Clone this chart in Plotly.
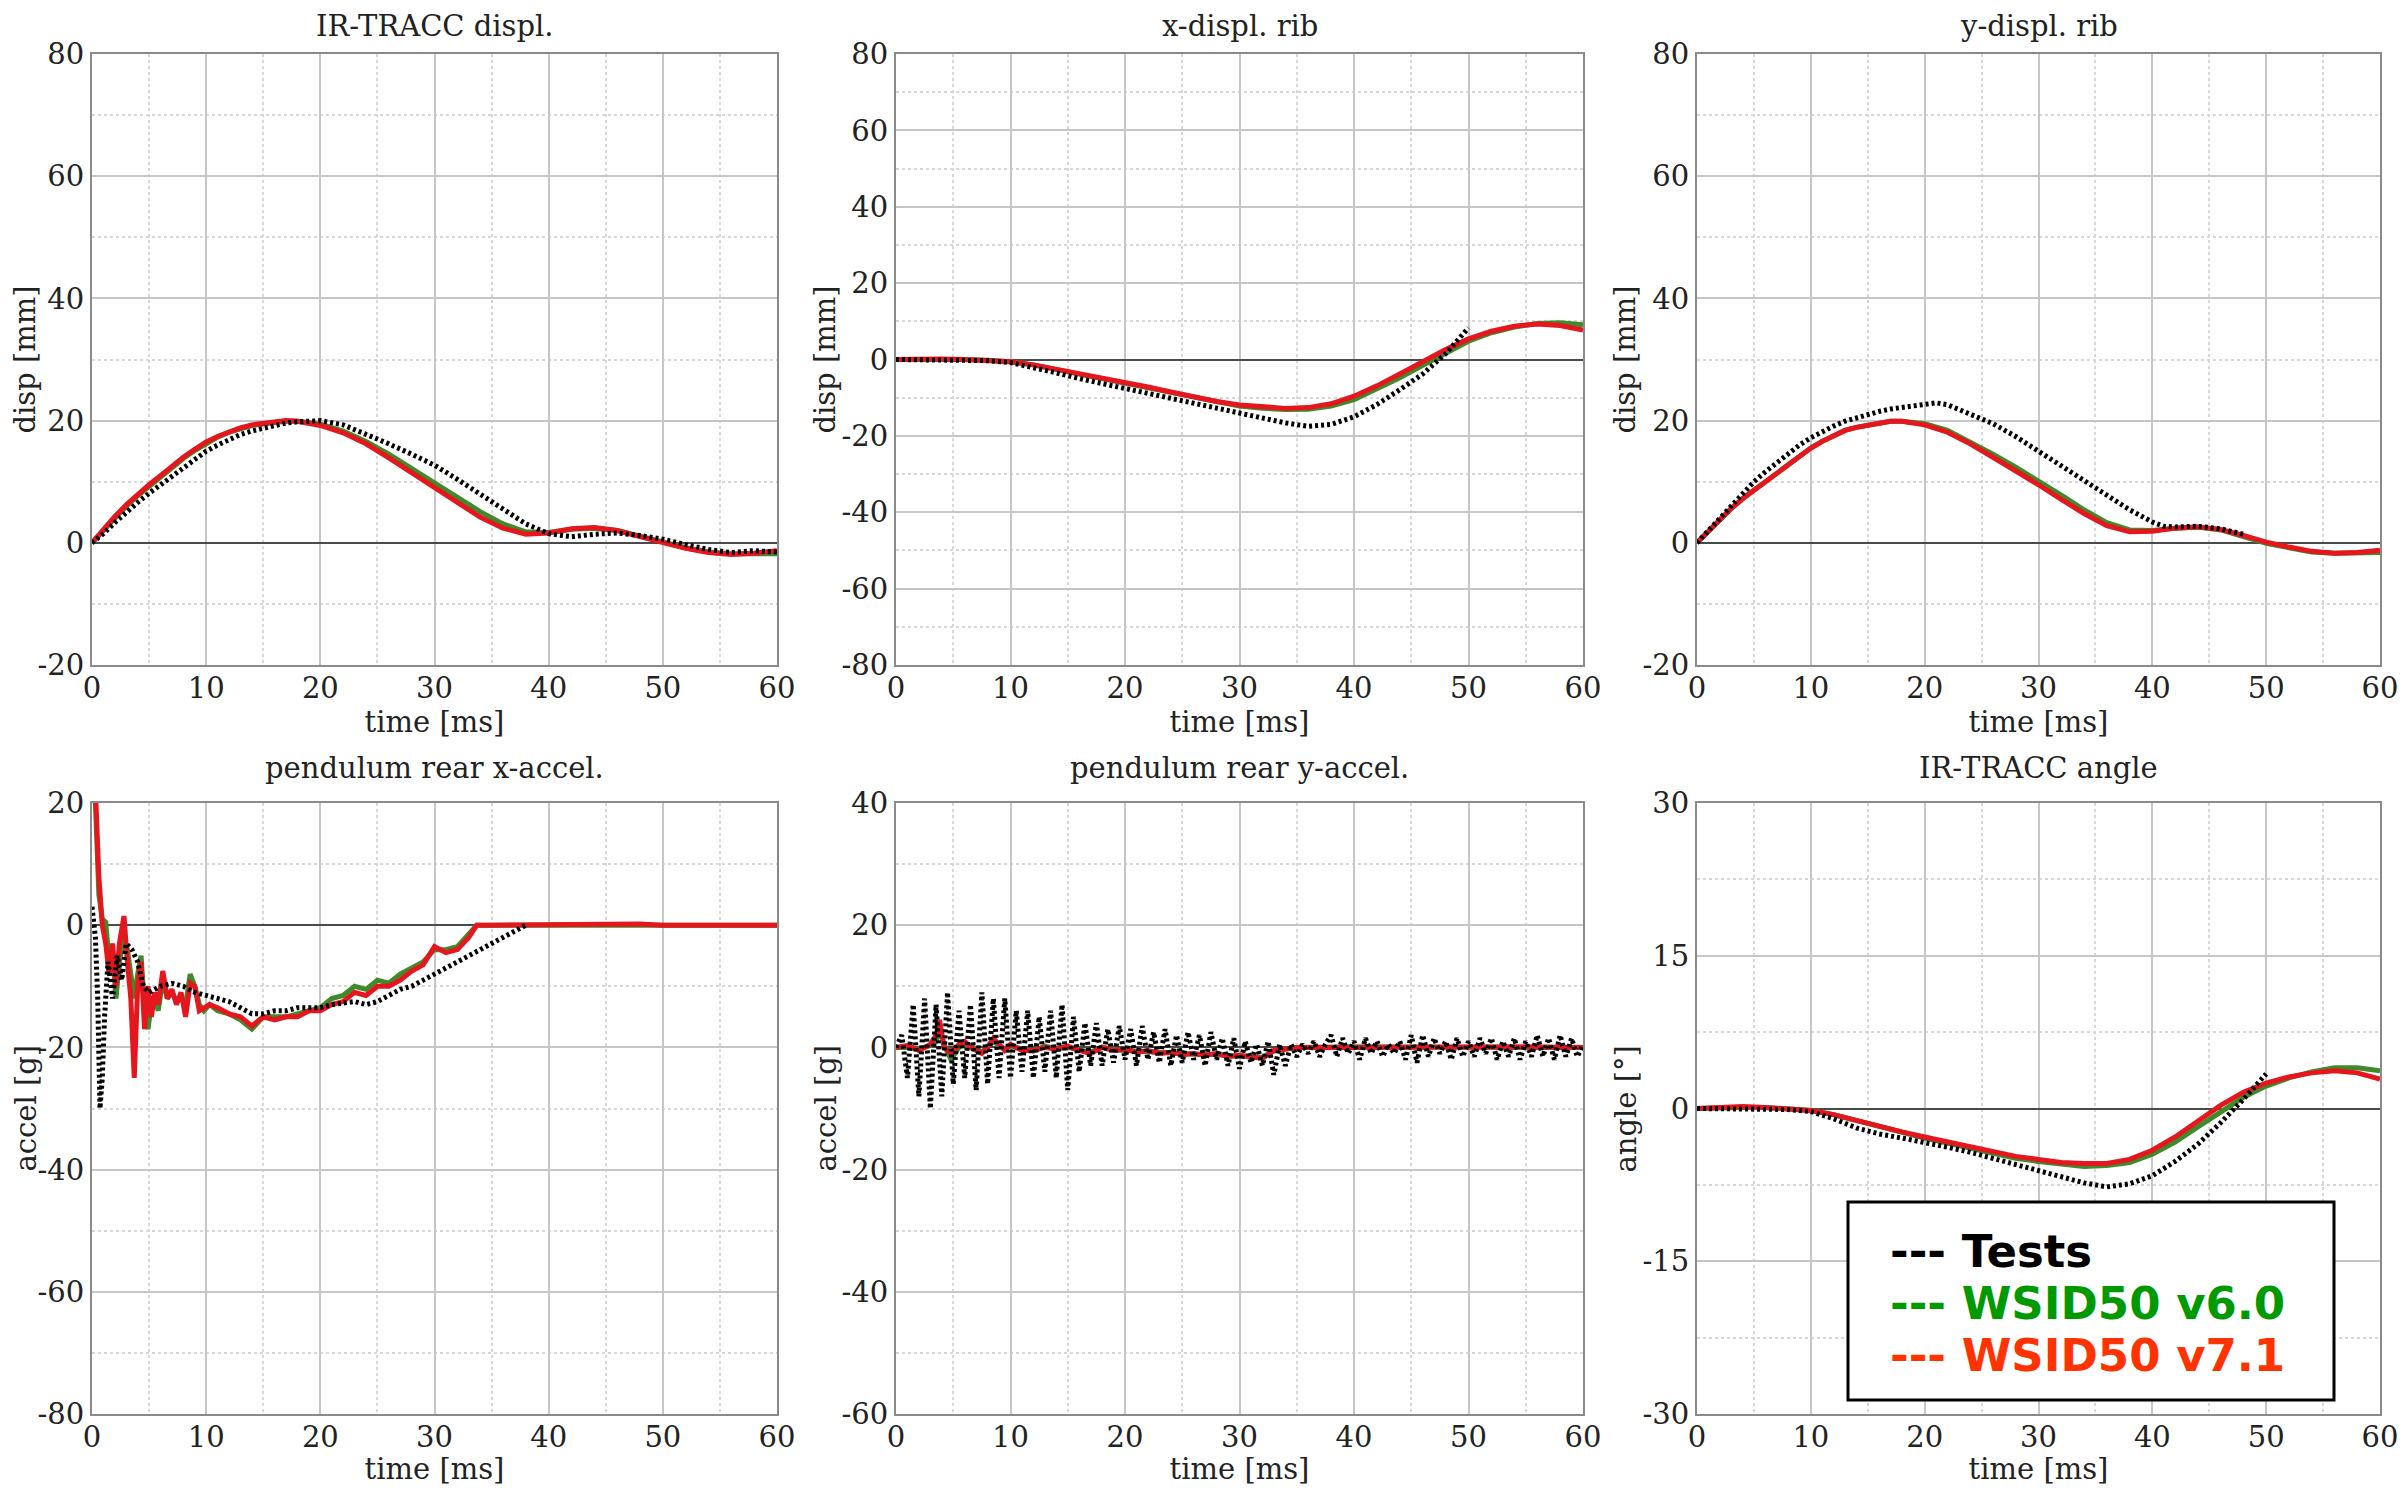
import plotly.graph_objects as go

# ---------------- data ----------------
# Panel 1: IR-TRACC displ.
t_p1 = [0,1,2,3,4,5,6,7,8,9,10,11,12,13,14,15,16,17,18,19,20,22,24,26,28,30,32,34,36,38,40,42,44,46,48,50,52,54,56,58,60]
p1_v71 = [0,2.2,4.3,6.2,7.9,9.5,11.0,12.6,14.0,15.3,16.5,17.4,18.2,18.8,19.3,19.6,19.9,20.0,19.9,19.6,19.2,18.0,16.2,13.9,11.5,9.0,6.5,4.2,2.4,1.4,1.6,2.3,2.5,2.0,1.0,0.0,-0.9,-1.6,-1.9,-1.7,-1.3]
p1_v60 = [0,2.1,4.2,6.0,7.7,9.2,10.8,12.4,13.8,15.1,16.3,17.3,18.1,18.7,19.2,19.5,19.8,19.9,19.9,19.7,19.4,18.3,16.6,14.5,12.2,9.8,7.4,5.1,3.1,1.8,1.7,2.2,2.4,2.0,1.1,0.1,-0.8,-1.5,-1.8,-1.8,-1.8]
p1_test = [0,1.5,3.3,5.0,6.6,8.1,9.5,10.9,12.3,13.7,15.0,16.0,16.9,17.7,18.3,18.8,19.3,19.6,19.8,20.0,20.0,19.3,17.8,16.2,14.5,12.7,10.4,8.0,5.5,3.1,1.5,1.0,1.4,1.6,1.2,0.6,-0.3,-1.1,-1.6,-1.3,-1.5]

# Panel 2: x-displ. rib
t_p2 = [0,2,4,6,8,10,12,14,16,18,20,22,24,26,28,30,32,34,36,38,40,42,44,46,48,50,52,54,56,58,60]
p2_v71 = [0,0.2,0.1,0,-0.2,-0.6,-1.4,-2.5,-3.6,-4.8,-6.0,-7.2,-8.5,-9.8,-11.0,-11.9,-12.5,-12.8,-12.6,-11.6,-9.6,-6.9,-3.8,-0.6,2.6,5.4,7.4,8.7,9.3,8.9,7.7]
p2_v60 = [0,0.1,0.1,0,-0.2,-0.6,-1.4,-2.6,-3.8,-5.0,-6.3,-7.5,-8.8,-10.1,-11.3,-12.2,-12.8,-13.1,-13.0,-12.2,-10.5,-7.8,-4.8,-1.5,1.8,4.8,7.0,8.5,9.4,9.6,9.1]
t_p2_test = [0,2,4,6,8,10,12,14,16,18,20,22,24,26,28,30,32,34,36,38,40,42,44,46,48,49,50]
p2_test = [0,0,0,-0.1,-0.3,-0.8,-2.0,-3.5,-5.0,-6.3,-7.6,-8.8,-10.2,-11.5,-12.8,-14.0,-15.3,-16.6,-17.5,-17.0,-15.0,-11.8,-7.9,-3.8,1.5,5.0,8.3]

# Panel 3: y-displ. rib
t_p3 = [0,1,2,3,4,5,6,7,8,9,10,11,12,13,14,15,16,17,18,19,20,22,24,26,28,30,32,34,36,38,40,42,44,46,48,50,52,54,56,58,60]
p3_v71 = [0,1.9,3.8,5.6,7.2,8.6,10.0,11.4,12.8,14.2,15.5,16.6,17.6,18.4,18.9,19.3,19.7,19.9,19.9,19.7,19.3,18.1,16.2,14.0,11.8,9.5,7.1,4.8,2.8,1.8,1.9,2.4,2.6,2.2,1.2,0.1,-0.7,-1.4,-1.7,-1.6,-1.2]
p3_v60 = [0,1.9,3.8,5.6,7.2,8.6,10.0,11.4,12.8,14.2,15.5,16.6,17.6,18.4,18.9,19.3,19.7,19.9,19.9,19.8,19.5,18.4,16.5,14.5,12.4,10.2,7.8,5.4,3.3,2.1,2.0,2.4,2.6,2.1,1.0,-0.1,-0.8,-1.5,-1.7,-1.7,-1.6]
t_p3_test = [0,1,2,3,4,5,6,7,8,9,10,11,12,13,14,15,16,17,18,19,20,21,22,24,26,28,30,32,34,36,38,40,41,42,44,46,48]
p3_test = [0,2.0,4.0,6.0,8.0,10.0,11.6,13.1,14.6,16.0,17.2,18.2,19.1,19.9,20.5,21.0,21.5,21.9,22.2,22.5,22.7,22.9,22.6,21.1,19.5,17.4,15.0,12.7,10.2,7.8,5.4,3.4,2.7,2.6,2.7,2.3,1.4]

# Panel 4: pendulum rear x-accel.
t_p4 = [0,0.3,0.6,0.9,1.2,1.5,1.8,2.1,2.4,2.8,3.1,3.4,3.7,4.0,4.3,4.6,4.9,5.2,5.5,5.8,6.2,6.6,7.0,7.4,7.8,8.2,8.6,9.0,9.4,9.8,10.3,11,12,13,14,15,16,17,18,19,20,21,22,23,24,25,26,27,28,29,30,31,32,33,33.7,35,40,45,48,50,55,60]
p4_v71 = [22,22,8,0,-3,-8,-3,-10,-3,1.5,-6,-12,-25,-10,-6,-17,-10,-15,-11,-13,-7.5,-12,-10.5,-13,-11,-15,-9.5,-10,-14,-13.5,-13,-13.5,-14.5,-15,-16.5,-15,-15.5,-15,-15,-14,-14,-13,-12.5,-11,-11.5,-10,-10,-9,-7.5,-6.5,-3.5,-4.5,-4,-2,0,0,0.1,0,0.2,0,0,0]
p4_v60 = [22,20,5,1,0.5,-6,-4,-12,-6,-2,-4,-8,-12,-8,-5,-14,-17,-13,-12,-14,-9,-12,-11,-12.5,-12,-13,-8,-10,-13,-14,-13,-14,-14.5,-15.5,-17,-15,-15,-15,-14.5,-14,-13.5,-12,-11.5,-10,-10.5,-9,-9.5,-8,-7,-6,-4,-4,-3.5,-1.5,0,0,0,0.1,0,0,0.1,0]
t_p4_test = [0,0.3,0.5,0.7,0.9,1.1,1.4,1.8,2.2,2.6,3,3.5,4,4.5,5,6,7,8,9,10,11,12,13,14,15,16,17,18,19,20,21,22,23,24,25,26,27,28,29,30,31,32,33,34,35,36,37,38]
p4_test = [3,-2,-12,-30,-25,-15,-6,-12,-5,-9,-3,-4,-6,-10,-11,-10,-9.5,-10,-11,-11.5,-12,-12.5,-13.5,-14.5,-14.5,-14,-14,-13.5,-13.5,-13.5,-13,-12.8,-12.5,-13,-12.5,-11.5,-10.5,-10,-9,-8,-7,-6,-5,-4,-3,-2,-1,0]

# Panel 5: pendulum rear y-accel.
t_p5_test = [0,0.5,1,1.5,2,2.5,3,3.5,4,4.5,5,5.5,6,6.5,7,7.5,8,8.5,9,9.5,10,10.5,11,11.5,12,12.5,13,13.5,14,14.5,15,15.5,16,16.5,17,17.5,18,18.5,19,19.5,20,20.5,21,21.5,22,22.5,23,23.5,24,24.5,25,25.5,26,26.5,27,27.5,28,28.5,29,29.5,30,30.5,31,31.5,32,32.5,33,33.5,34,34.5,35,35.5,36,36.5,37,37.5,38,38.5,39,39.5,40,40.5,41,41.5,42,42.5,43,43.5,44,44.5,45,45.5,46,46.5,47,47.5,48,48.5,49,49.5,50,50.5,51,51.5,52,52.5,53,53.5,54,54.5,55,55.5,56,56.5,57,57.5,58,58.5,59,59.5,60]
p5_test = [0,2,-5,7,-8,8,-10,7,-8,9,-6,6,-5,7,-7,9,-6,8,-5,8,-5,6,-4,6,-5,5,-4,6,-5,7,-7,5,-4,4,-3,4,-3,3,-2.5,3.5,-2,3,-3,3.5,-2,2.5,-2.5,3,-3,2,-2.5,2.5,-2,2,-3,2.5,-2,1.5,-3,1.5,-3.5,1,-2.5,0.5,-3,1,-4.5,0.5,-3,0.5,-1.5,0.5,-1,1,-1.5,0.5,2,-1.5,1.5,-1,1,-2,1.5,-1,1,-1.5,0.5,-1,1,-2,2,-2.5,2,-1.5,1.5,-1,1,-2,1.5,-1.5,1,-1.5,1.5,-1,1.5,-2,1,-1.5,1.5,-2,1,-1.5,2,-1.5,1.5,-2,2,-1.5,1.5,-1.5,0.5]
t_p5 = [0,1,2,3,3.5,3.8,4.2,4.8,5.5,6,6.5,7,7.5,8,8.5,9,9.5,10,11,12,13,14,15,16,17,18,19,20,21,22,23,24,25,26,27,28,29,30,31,32,33,34,35,40,45,50,55,60]
p5_v71 = [0,0.3,-0.5,0.5,2,4.5,0,-1,0.5,1,0,-0.5,-1,0,1.5,0.5,-0.5,0.5,-0.5,-0.5,0,-0.3,0.2,-0.5,-1,0,-0.5,-0.3,-0.8,-0.5,-1,-0.8,-1.2,-1,-1.3,-1,-1.5,-1.3,-1.5,-1.8,-0.5,-0.3,0,0,0.1,0,0.1,0]
p5_v60 = [0,0,-0.3,0.3,1,3,0.5,-2,0,0.5,0.3,-0.3,-0.8,0.2,1,0.3,-0.3,0.3,-0.3,-0.6,0.2,-0.2,0,-0.4,-0.8,0.1,-0.4,-0.5,-0.6,-0.6,-0.9,-0.9,-1.1,-1.1,-1.2,-1.1,-1.4,-1.4,-1.4,-1.6,-0.6,-0.2,0,0.1,0,0,0,0]

# Panel 6: IR-TRACC angle
t_p6 = [0,2,4,6,8,10,12,14,16,18,20,22,24,26,28,30,32,34,36,38,40,42,44,46,48,50,52,54,56,58,60]
p6_v71 = [0,0.1,0.2,0.1,0,-0.2,-0.6,-1.2,-1.8,-2.3,-2.8,-3.3,-3.8,-4.3,-4.7,-5.0,-5.3,-5.4,-5.4,-5.0,-4.1,-2.8,-1.2,0.3,1.6,2.5,3.1,3.5,3.7,3.5,2.9]
p6_v60 = [0,0.1,0.1,0.1,0,-0.2,-0.6,-1.2,-1.8,-2.4,-2.9,-3.4,-3.9,-4.4,-4.9,-5.2,-5.5,-5.7,-5.6,-5.3,-4.5,-3.3,-1.8,-0.3,1.1,2.2,3.0,3.6,4.0,4.0,3.7]
t_p6_test = [0,2,4,6,8,10,12,14,16,18,20,22,24,26,28,30,32,34,36,38,40,42,44,46,48,49,50]
p6_test = [0,0,0,0,-0.1,-0.3,-1.0,-1.9,-2.5,-2.9,-3.3,-3.8,-4.3,-4.9,-5.5,-6.1,-6.7,-7.3,-7.7,-7.4,-6.6,-5.2,-3.5,-1.4,0.9,2.2,3.4]

titles = ["IR-TRACC displ.", "x-displ. rib", "y-displ. rib",
          "pendulum rear x-accel.", "pendulum rear y-accel.", "IR-TRACC angle"]
y_titles = ["disp [mm]", "disp [mm]", "disp [mm]", "accel [g]", "accel [g]", "angle [°]"]
y_ranges = [[-20, 80], [-80, 80], [-20, 80], [-80, 20], [-60, 40], [-30, 30]]
y_dticks = [20, 20, 20, 20, 20, 15]
x_ticks = [0, 10, 20, 30, 40, 50, 60]
x_title = "time [ms]"
legend_names = ["Tests", "WSID50 v6.0", "WSID50 v7.1"]

# ---------------- styling ----------------
PAGE_W, PAGE_H = 2407, 1494
OFF = 8                      # default page body margin
W, H = PAGE_W - 2 * OFF, PAGE_H - 2 * OFF
C_TEST = "#000000"
C_V60 = "#3F8A2A"
C_V71 = "#E5161E"
LEG_COLORS = ["#000000", "#009900", "#FF3300"]
FONT = "DejaVu Serif"
TXT = "#222222"

# plot-area pixel boxes in page coordinates
col_px = [(92, 777), (896, 1583), (1697, 2380)]
row_px = [(54, 665), (803, 1414)]
ytitle_px = [25, 825, 1625]
title_py = [26, 768]


def px(xp):
    return (xp - OFF) / W


def py(yp):
    return 1 - (yp - OFF) / H


panels = [
    (t_p1, p1_test, t_p1, p1_v60, t_p1, p1_v71),
    (t_p2_test, p2_test, t_p2, p2_v60, t_p2, p2_v71),
    (t_p3_test, p3_test, t_p3, p3_v60, t_p3, p3_v71),
    (t_p4_test, p4_test, t_p4, p4_v60, t_p4, p4_v71),
    (t_p5_test, p5_test, t_p5, p5_v60, t_p5, p5_v71),
    (t_p6_test, p6_test, t_p6, p6_v60, t_p6, p6_v71),
]


def fmt(v):
    return "%g" % v  # plain hyphen-minus as in the reference


fig = go.Figure()
layout = dict(
    width=W, height=H, autosize=False,
    margin=dict(l=0, r=0, t=0, b=0, autoexpand=False),
    paper_bgcolor="white", plot_bgcolor="white",
    showlegend=False,
    font=dict(family=FONT, size=29, color=TXT),
)
annotations = []
shapes = []

for i, (tt, yt, tg, yg, tr, yr) in enumerate(panels):
    r, c = divmod(i, 3)
    n = i + 1
    xa = "x" if n == 1 else f"x{n}"
    ya = "y" if n == 1 else f"y{n}"
    fig.add_trace(go.Scatter(x=tg, y=yg, mode="lines", name=legend_names[1],
                             line=dict(color=C_V60, width=5), xaxis=xa, yaxis=ya))
    fig.add_trace(go.Scatter(x=tr, y=yr, mode="lines", name=legend_names[2],
                             line=dict(color=C_V71, width=5), xaxis=xa, yaxis=ya))
    fig.add_trace(go.Scatter(x=tt, y=yt, mode="lines", name=legend_names[0],
                             line=dict(color=C_TEST, width=5, dash="3px,3px"),
                             xaxis=xa, yaxis=ya))
    x0, x1 = col_px[c]
    y0, y1 = row_px[r]
    xd = [px(x0), px(x1)]
    yd = [py(y1), py(y0)]
    dt = y_dticks[i]
    lo, hi = y_ranges[i]
    yt_vals = [lo + k * dt for k in range(int(round((hi - lo) / dt)) + 1)]
    layout["xaxis" if n == 1 else f"xaxis{n}"] = dict(
        domain=xd, anchor=ya, range=[0, 60], automargin=False,
        tickmode="array", tickvals=x_ticks, ticktext=[fmt(v) for v in x_ticks],
        showgrid=True, gridcolor="#C6C6C6", gridwidth=1.5,
        minor=dict(dtick=5, tick0=0, showgrid=True, gridcolor="#D8D8D8",
                   griddash="dot", gridwidth=1.5),
        showline=True, mirror=True, linecolor="#8A8A8A", linewidth=2,
        zeroline=False, ticks="", ticklabelstandoff=-4,
        ticklabeloverflow="allow",
        tickfont=dict(family=FONT, size=29, color=TXT),
        title=dict(text=x_title, standoff=7,
                   font=dict(family=FONT, size=29, color=TXT)),
    )
    layout["yaxis" if n == 1 else f"yaxis{n}"] = dict(
        domain=yd, anchor=xa, range=y_ranges[i], automargin=False,
        tickmode="array", tickvals=yt_vals, ticktext=[fmt(v) for v in yt_vals],
        showgrid=True, gridcolor="#C6C6C6", gridwidth=1.5,
        minor=dict(dtick=dt / 2, tick0=0, showgrid=True, gridcolor="#D8D8D8",
                   griddash="dot", gridwidth=1.5),
        showline=True, mirror=True, linecolor="#8A8A8A", linewidth=2,
        zeroline=True, zerolinecolor="#4A4A4A", zerolinewidth=1.5,
        ticks="", ticklabelstandoff=0,
        tickfont=dict(family=FONT, size=29, color=TXT),
    )
    # panel title
    annotations.append(dict(
        text=titles[i], xref="paper", yref="paper",
        x=px((x0 + x1) / 2), y=py(title_py[r]),
        xanchor="center", yanchor="middle", showarrow=False,
        font=dict(family=FONT, size=29, color=TXT),
    ))
    # y-axis title (rotated)
    annotations.append(dict(
        text=y_titles[i], xref="paper", yref="paper",
        x=px(ytitle_px[c]), y=py((y0 + y1) / 2),
        xanchor="center", yanchor="middle", textangle=-90, showarrow=False,
        font=dict(family=FONT, size=29, color=TXT),
    ))

# legend box (text legend as in the reference)
bx0, bx1, by0, by1 = 1848, 2334, 1202, 1400
shapes.append(dict(type="rect", xref="paper", yref="paper",
                   x0=px(bx0), x1=px(bx1), y0=py(by1), y1=py(by0),
                   line=dict(color="black", width=3), fillcolor="white",
                   layer="above"))
leg_y = [1251, 1303, 1355]
for name, col, yy in zip(legend_names, LEG_COLORS, leg_y):
    annotations.append(dict(
        text=f"<b>--- {name}</b>", xref="paper", yref="paper",
        x=px(1888), y=py(yy), xanchor="left", yanchor="middle",
        showarrow=False,
        font=dict(family="DejaVu Sans", size=45, color=col),
    ))

layout["annotations"] = annotations
layout["shapes"] = shapes
fig.update_layout(**layout)
fig.write_html("out.html")
